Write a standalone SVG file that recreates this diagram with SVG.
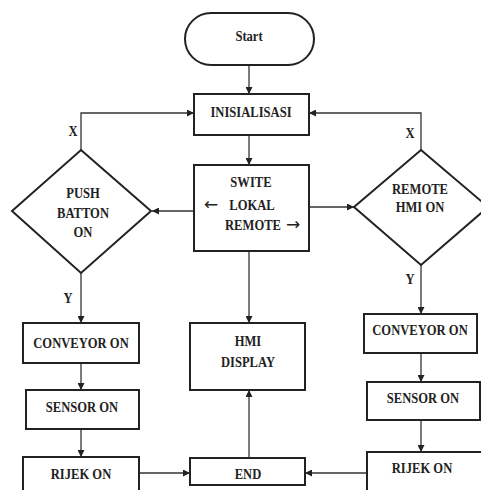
<svg xmlns="http://www.w3.org/2000/svg" width="481" height="490" viewBox="0 0 481 490">
<style>
.s{fill:#fff;stroke:#222;stroke-width:2}
.c{fill:none;stroke:#333;stroke-width:1.3}
text{font-family:"Liberation Serif","Times New Roman",serif;font-weight:bold;font-size:15px;fill:#222;text-anchor:middle;transform-box:fill-box;transform-origin:center;transform:scaleX(.84)}
.ar{font-family:"DejaVu Sans",sans-serif;font-weight:normal;font-size:17px;transform:none}
</style>
<defs>
<marker id="a" viewBox="0 0 10 10" refX="10" refY="5" markerWidth="7" markerHeight="7" orient="auto" markerUnits="userSpaceOnUse"><path d="M0,0L10,5L0,10z" fill="#222"/></marker>
</defs>
<g id="connectors">
<path class="c" d="M249,65V94" marker-end="url(#a)"/>
<path class="c" d="M249,135V165" marker-end="url(#a)"/>
<path class="c" d="M81,150V113H194" marker-end="url(#a)"/>
<path class="c" d="M421,150V113H309" marker-end="url(#a)"/>
<path class="c" d="M194,211H152" marker-end="url(#a)"/>
<path class="c" d="M309,207H354" marker-end="url(#a)"/>
<path class="c" d="M81,273V323" marker-end="url(#a)"/>
<path class="c" d="M421,265V314" marker-end="url(#a)"/>
<path class="c" d="M249,251V323" marker-end="url(#a)"/>
<path class="c" d="M81,363V390" marker-end="url(#a)"/>
<path class="c" d="M81,429V457" marker-end="url(#a)"/>
<path class="c" d="M421,353V382" marker-end="url(#a)"/>
<path class="c" d="M421,420V452" marker-end="url(#a)"/>
<path class="c" d="M249,458V390" marker-end="url(#a)"/>
<path class="c" d="M139,473H190" marker-end="url(#a)"/>
<path class="c" d="M367,473H305" marker-end="url(#a)"/>
<text x="73" y="136">X</text>
<text x="410" y="138">X</text>
<text x="68" y="303">Y</text>
<text x="410" y="284">Y</text>
</g>
<g id="start"><rect class="s" x="185" y="13" width="129" height="52" rx="26"/><text x="249" y="41">Start</text></g>
<g id="init"><rect class="s" x="194" y="94" width="115" height="41"/><text x="251" y="117">INISIALISASI</text></g>
<g id="switch"><rect class="s" x="194" y="165" width="115" height="86"/>
<text x="251" y="187">SWITE</text>
<text class="ar" x="211" y="210">←</text>
<text x="252" y="210">LOKAL</text>
<text x="253" y="230">REMOTE</text>
<text class="ar" x="293" y="230">→</text></g>
<g id="push"><path class="s" d="M81,150L151,211L81,273L12,211z"/>
<text x="83" y="198">PUSH</text><text x="83" y="218">BATTON</text><text x="83" y="237">ON</text></g>
<g id="remote"><path class="s" d="M421,150L488,207L421,265L354,207z"/>
<text x="420" y="194">REMOTE</text><text x="420" y="212">HMI ON</text></g>
<g id="conv1"><rect class="s" x="23" y="323" width="116" height="40"/><text x="81" y="348">CONVEYOR ON</text></g>
<g id="sens1"><rect class="s" x="26" y="390" width="113" height="39"/><text x="82" y="412">SENSOR ON</text></g>
<g id="rijek1"><rect class="s" x="23" y="457" width="116" height="40"/><text x="81" y="479">RIJEK ON</text></g>
<g id="hmi"><rect class="s" x="190" y="323" width="115" height="67"/><text x="248" y="346">HMI</text><text x="248" y="367">DISPLAY</text></g>
<g id="end"><rect class="s" x="190" y="458" width="115" height="27"/><text x="248" y="479">END</text></g>
<g id="conv2"><rect class="s" x="364" y="314" width="113" height="39"/><text x="420" y="335">CONVEYOR ON</text></g>
<g id="sens2"><rect class="s" x="367" y="382" width="113" height="38"/><text x="423" y="403">SENSOR ON</text></g>
<g id="rijek2"><rect class="s" x="367" y="452" width="115" height="45"/><text x="422" y="473">RIJEK ON</text></g>
</svg>
